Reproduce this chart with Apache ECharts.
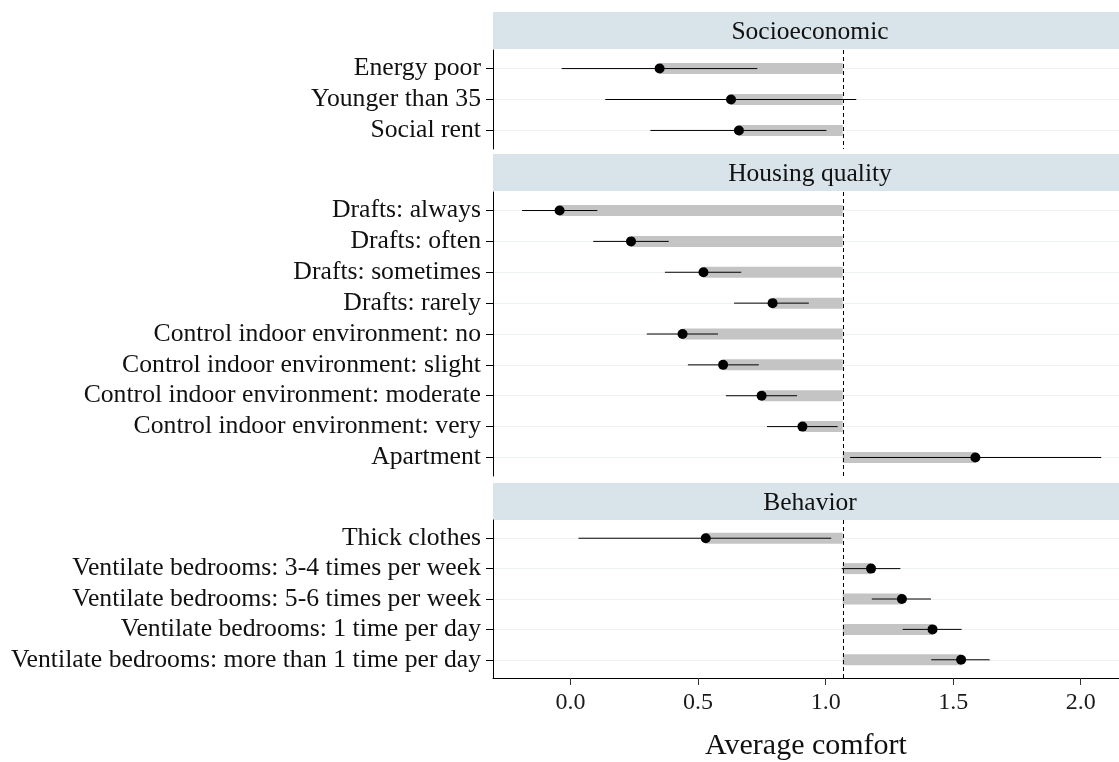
<!DOCTYPE html>
<html>
<head>
<meta charset="utf-8">
<script src="https://cdn.jsdelivr.net/npm/echarts@6/dist/echarts.min.js"></script>
<style>html,body{margin:0;padding:0;background:#fff}#c{width:1119px;height:762px}</style>
</head>
<body>
<div id="c"></div>
<script>
// ---- data ----
const panelTitles = ["Socioeconomic", "Housing quality", "Behavior"];
const refValue = 1.067;

const cats1 = ["Energy poor", "Younger than 35", "Social rent"];
const est1 = [0.349, 0.629, 0.660];
const lo1 = [-0.035, 0.136, 0.313];
const hi1 = [0.732, 1.120, 1.003];

const cats2 = ["Drafts: always", "Drafts: often", "Drafts: sometimes", "Drafts: rarely",
  "Control indoor environment: no", "Control indoor environment: slight",
  "Control indoor environment: moderate", "Control indoor environment: very", "Apartment"];
const est2 = [-0.043, 0.237, 0.521, 0.792, 0.439, 0.598, 0.749, 0.909, 1.587];
const lo2 = [-0.190, 0.089, 0.370, 0.641, 0.299, 0.460, 0.609, 0.770, 1.096];
const hi2 = [0.105, 0.385, 0.669, 0.934, 0.578, 0.738, 0.888, 1.047, 2.080];

const cats3 = ["Thick clothes", "Ventilate bedrooms: 3-4 times per week",
  "Ventilate bedrooms: 5-6 times per week", "Ventilate bedrooms: 1 time per day",
  "Ventilate bedrooms: more than 1 time per day"];
const est3 = [0.530, 1.178, 1.299, 1.419, 1.531];
const lo3 = [0.031, 1.063, 1.181, 1.302, 1.414];
const hi3 = [1.022, 1.293, 1.413, 1.533, 1.643];

const xTicks = [0, 0.5, 1.0, 1.5, 2.0];
const xName = "Average comfort";

// ---- layout ----
const FONT = "'Liberation Serif', 'Times New Roman', serif";
const panels = [
  {cats: cats1, est: est1, lo: lo1, hi: hi1, headTop: 12, headH: 37, top: 50, h: 99},
  {cats: cats2, est: est2, lo: lo2, hi: hi2, headTop: 154, headH: 37, top: 192, h: 284},
  {cats: cats3, est: est3, lo: lo3, hi: hi3, headTop: 483, headH: 37, top: 520, h: 160}
];
const LEFT = 493, WIDTH = 626;
const XMIN = -0.304, XMAX = 2.15;

const grids = [], xAxes = [], yAxes = [], series = [], graphics = [];

panels.forEach((p, gi) => {
  const n = p.cats.length;
  const idx = p.cats.map((_, i) => i);
  grids.push({left: LEFT, top: p.top, width: WIDTH, height: p.h, containLabel: false});
  const last = gi === panels.length - 1;
  xAxes.push({
    type: 'value', gridIndex: gi, min: XMIN, max: XMAX,
    splitLine: {show: false},
    axisLine: {show: last, onZero: false, lineStyle: {color: '#000', width: 1}},
    axisTick: {show: last, length: 7, customValues: xTicks, lineStyle: {color: '#333'}},
    axisLabel: {show: last, customValues: xTicks, margin: 13, fontFamily: FONT, fontSize: 24, color: '#1a1a1a',
      formatter: v => Number(v).toFixed(1)},
    name: last ? xName : '', nameLocation: 'middle', nameGap: 53,
    nameTextStyle: {fontFamily: FONT, fontSize: 30, color: '#111'}
  });
  yAxes.push({
    type: 'value', gridIndex: gi, inverse: true, min: -0.6, max: n - 0.4,
    axisLine: {show: true, onZero: false, lineStyle: {color: '#000', width: 1}},
    axisTick: {show: true, length: 7, customValues: idx, lineStyle: {color: '#000'}},
    axisLabel: {customValues: idx, margin: 12, fontFamily: FONT, fontSize: 25.7, color: '#111',
      padding: [3, 0, 0, 0],
      formatter: v => p.cats[Math.round(v)]},
    splitLine: {show: true, customValues: idx, lineStyle: {color: '#ecf1f2', width: 1}}
  });
  const rows = p.cats.map((c, i) => [p.est[i], i, p.lo[i], p.hi[i]]);
  series.push({
    type: 'custom', xAxisIndex: gi, yAxisIndex: gi, data: rows, silent: true,
    encode: {x: [0, 2, 3], y: 1},
    renderItem: (params, api) => {
      const e = api.value(0), y = api.value(1), lo = api.value(2), hi = api.value(3);
      const a = api.coord([refValue, y]), b = api.coord([e, y]);
      const l = api.coord([lo, y]), h = api.coord([hi, y]);
      const x0 = Math.min(a[0], b[0]), w = Math.abs(a[0] - b[0]);
      return {type: 'group', children: [
        {type: 'rect', shape: {x: x0, y: a[1] - 5.5, width: w, height: 11}, style: {fill: '#c4c4c4'}},
        {type: 'line', shape: {x1: l[0], y1: l[1], x2: h[0], y2: h[1]}, style: {stroke: '#000', lineWidth: 1}}
      ]};
    },
    markLine: {
      silent: true, symbol: 'none', label: {show: false},
      lineStyle: {color: '#000', type: [4, 3], width: 1},
      data: [{xAxis: refValue}]
    },
    z: 2
  });
  series.push({
    type: 'scatter', xAxisIndex: gi, yAxisIndex: gi, silent: true,
    data: p.est.map((v, i) => [v, i]),
    symbol: 'circle', symbolSize: 10, itemStyle: {color: '#000', opacity: 1}, z: 5
  });
  graphics.push({type: 'rect', left: LEFT, top: p.headTop, shape: {width: WIDTH, height: p.headH},
    style: {fill: '#d9e4ea'}, silent: true, z: -1});
  graphics.push({type: 'text', x: 810, y: p.headTop + p.headH / 2 + 2, silent: true,
    style: {text: panelTitles[gi], font: '25.5px ' + FONT, fill: '#111', textAlign: 'center', textVerticalAlign: 'middle'}});
});

const chart = echarts.init(document.getElementById('c'), null, {renderer: 'canvas'});
chart.setOption({
  animation: false,
  backgroundColor: '#fff',
  grid: grids, xAxis: xAxes, yAxis: yAxes, series: series, graphic: graphics
});
</script>
</body>
</html>
